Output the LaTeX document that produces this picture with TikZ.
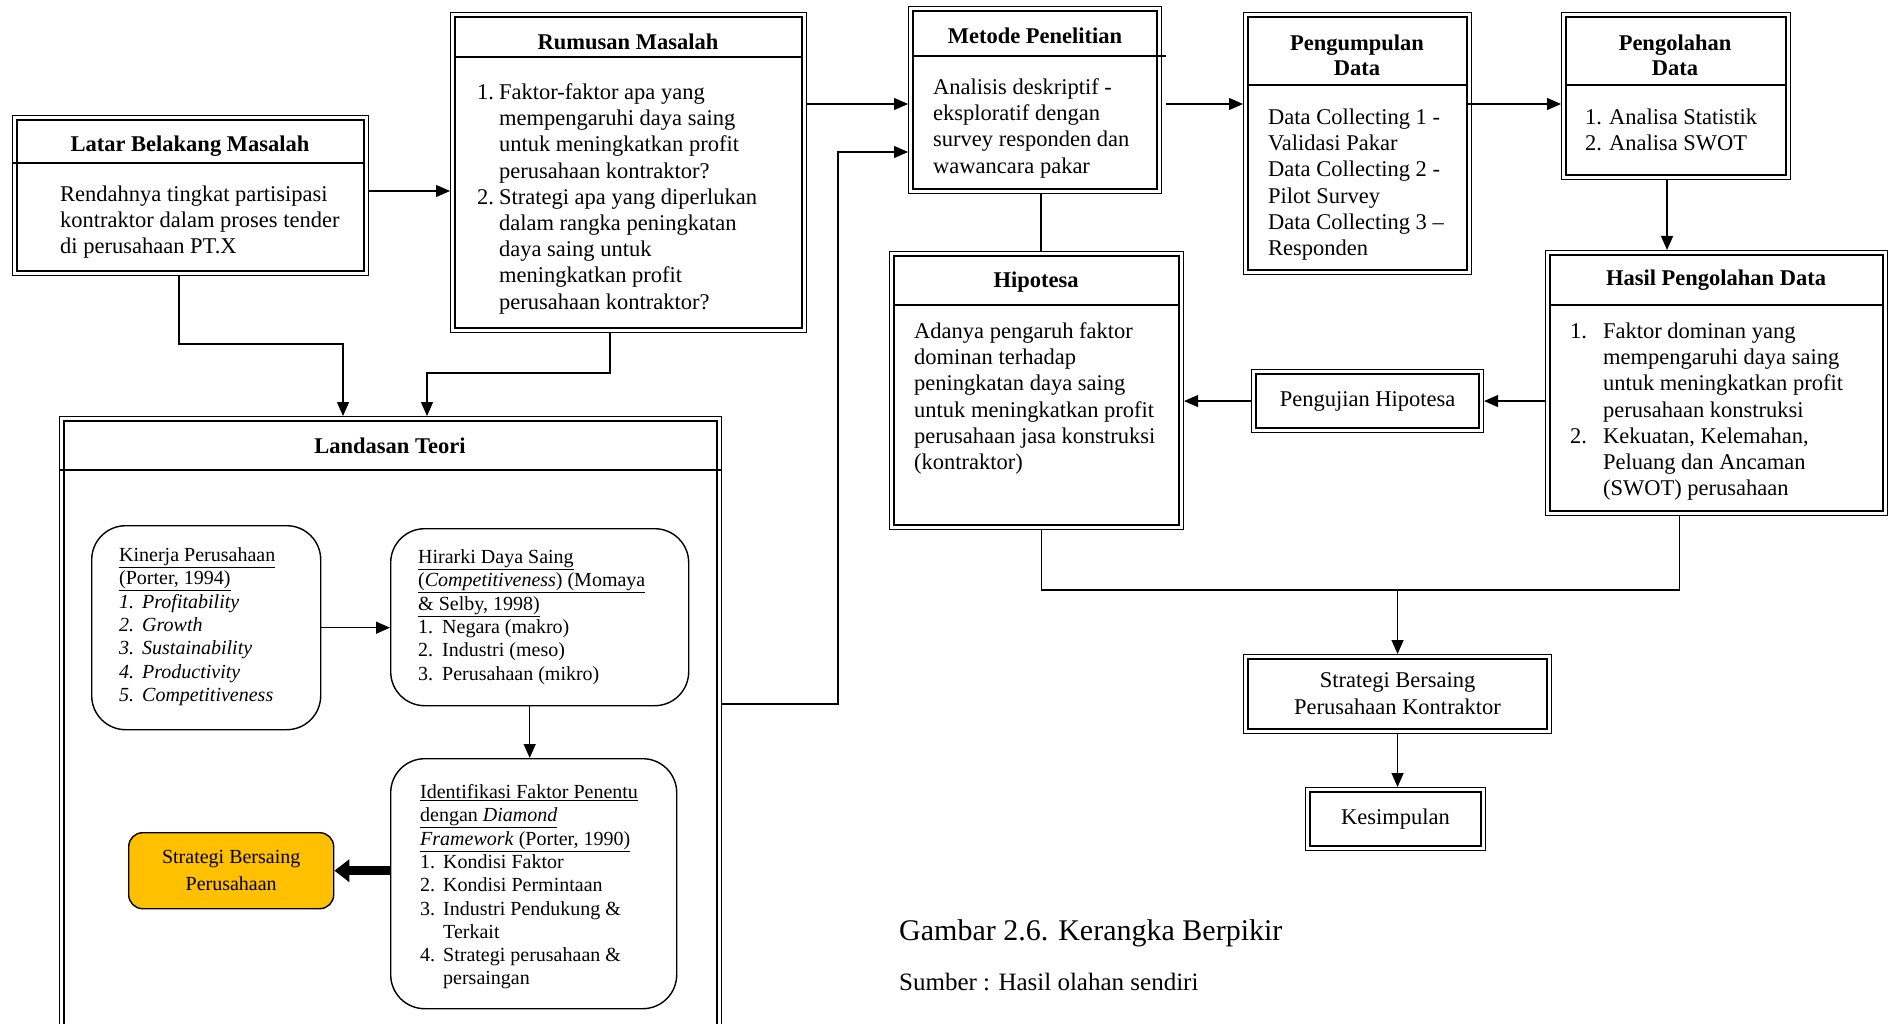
\documentclass[tikz,border=0pt]{standalone}
\usepackage{fontspec}
\setmainfont{Liberation Serif}
\usetikzlibrary{arrows.meta,calc}

\newcommand{\fbody}{\fontsize{22.5}{26.2}\selectfont}
\newcommand{\fsmall}{\fontsize{20}{23.3}\selectfont}
\newcommand{\undl}[1]{\underline{#1}}
\definecolor{gold}{HTML}{FFC000}

\tikzset{
  frame/.style={draw, line width=1.1pt, anchor=north west, inner sep=0pt},
  rbox/.style={draw, line width=1.4pt, anchor=north west, inner sep=0pt, rounded corners=34pt},
  txt/.style={anchor=north west, inner sep=0pt, font=\fbody},
  stxt/.style={anchor=north west, inner sep=0pt, font=\fsmall},
  ttl/.style={anchor=center, inner sep=0pt, align=center, font=\fbody\bfseries},
  ctxt/.style={anchor=center, inner sep=0pt, align=center, font=\fbody},
  ln/.style={line width=1.3pt},
  arr/.style={line width=1.3pt, -{Triangle[length=14pt,width=12pt]}},
  fatarr/.style={line width=9pt, -{Triangle[length=15pt,width=22pt]}},
  hdr/.style={line width=1.3pt}
}

\begin{document}
\begin{tikzpicture}[x=1pt,y=-1pt]
\useasboundingbox (0,0) rectangle (1893,1024);
\clip (0,0) rectangle (1893,1024);
\fill[white] (0,0) rectangle (1893,1024);

% ---------- framed boxes (outer thin line) ----------
\node[frame, minimum width=356pt, minimum height=160pt] (latar) at (12,115) {};
\node[frame, minimum width=356pt, minimum height=320pt] (rumusan) at (450,12) {};
\node[frame, minimum width=253pt, minimum height=187pt] (metode) at (908,6) {};
\node[frame, minimum width=228pt, minimum height=262pt] (pengumpulan) at (1243,12) {};
\node[frame, minimum width=229pt, minimum height=167pt] (pengolahan) at (1561,12) {};
\node[frame, minimum width=294pt, minimum height=278pt] (hipotesa) at (889,251) {};
\node[frame, minimum width=342pt, minimum height=265pt] (hasil) at (1545,250) {};
\node[frame, minimum width=232pt, minimum height=63pt] (pengujian) at (1251,369) {};
\node[frame, minimum width=662pt, minimum height=640pt] (landasan) at (59,416) {};
\node[frame, minimum width=308pt, minimum height=79pt] (strategi) at (1243,654) {};
\node[frame, minimum width=180pt, minimum height=63pt] (kesimpulan) at (1305,787) {};

% inner thick line of every double frame
\foreach \n in {latar,rumusan,metode,pengumpulan,pengolahan,hipotesa,hasil,pengujian,landasan,strategi,kesimpulan}
  \draw[line width=2.6pt] ([shift={(5pt,-5pt)}]\n.north west) rectangle ([shift={(-5pt,5pt)}]\n.south east);

% header rules
\draw[hdr] ($(latar.north west)+(0,48)$) -- ($(latar.north east)+(-5,48)$);
\draw[hdr] ($(rumusan.north west)+(5,45)$) -- ($(rumusan.north east)+(-5,45)$);
\draw[hdr] ($(metode.north west)+(5,50)$) -- ($(metode.north east)+(4,50)$);
\draw[hdr] ($(pengumpulan.north west)+(5,73)$) -- ($(pengumpulan.north east)+(-5,73)$);
\draw[hdr] ($(pengolahan.north west)+(5,73)$) -- ($(pengolahan.north east)+(-5,73)$);
\draw[hdr] ($(hipotesa.north west)+(5,54)$) -- ($(hipotesa.north east)+(-5,54)$);
\draw[hdr] ($(hasil.north west)+(5,55)$) -- ($(hasil.north east)+(-5,55)$);
\draw[hdr] ($(landasan.north west)+(0,54)$) -- ($(landasan.north east)+(0,54)$);

% ---------- titles ----------
\node[ttl] (tlatar) at (190,146) {Latar Belakang Masalah};
\node[ttl] (trumusan) at (628,42) {Rumusan Masalah};
\node[ttl] (tmetode) at (1035,36) {Metode Penelitian};
\node[ttl] (tkumpul) at (1357,55) {Pengumpulan\\[-1pt]Data};
\node[ttl] (tolah) at (1675,55) {Pengolahan\\[-1pt]Data};
\node[ttl] (thipo) at (1036,282) {Hipotesa};
\node[ttl] (thasil) at (1716,280) {Hasil Pengolahan Data};
\node[ttl] (tlandasan) at (390,446) {Landasan Teori};

% ---------- body texts ----------
\node[txt] (blatar) at (60,183) {\begin{tabular}{@{}l@{}}
Rendahnya tingkat partisipasi\\
kontraktor dalam proses tender\\
di perusahaan PT.X\end{tabular}};

\node[txt] (brumusan) at (477,81) {\begin{tabular}{@{}l@{\hspace{5pt}}l@{}}
1. & Faktor-faktor apa yang\\
   & mempengaruhi daya saing\\
   & untuk meningkatkan profit\\
   & perusahaan kontraktor?\\
2. & Strategi apa yang diperlukan\\
   & dalam rangka peningkatan\\
   & daya saing untuk\\
   & meningkatkan profit\\
   & perusahaan kontraktor?\end{tabular}};

\node[txt] (bmetode) at (933,76) {\begin{tabular}{@{}l@{}}
Analisis deskriptif -\\
eksploratif dengan\\
survey responden dan\\
wawancara pakar\end{tabular}};

\node[txt] (bkumpul) at (1268,106) {\begin{tabular}{@{}l@{}}
Data Collecting 1 -\\
Validasi Pakar\\
Data Collecting 2 -\\
Pilot Survey\\
Data Collecting 3 --\\
Responden\end{tabular}};

\node[txt] (bolah) at (1585,106) {\begin{tabular}{@{}l@{\hspace{7pt}}l@{}}
1. & Analisa Statistik\\
2. & Analisa SWOT\end{tabular}};

\node[txt] (bhipo) at (914,320) {\begin{tabular}{@{}l@{}}
Adanya pengaruh faktor\\
dominan terhadap\\
peningkatan daya saing\\
untuk meningkatkan profit\\
perusahaan jasa konstruksi\\
(kontraktor)\end{tabular}};

\node[txt] (bhasil) at (1570,320) {\begin{tabular}{@{}l@{\hspace{16pt}}l@{}}
1. & Faktor dominan yang\\
   & mempengaruhi daya saing\\
   & untuk meningkatkan profit\\
   & perusahaan konstruksi\\
2. & Kekuatan, Kelemahan,\\
   & Peluang dan Ancaman\\
   & (SWOT) perusahaan\end{tabular}};

\node[ctxt] (tuji) at (pengujian.center) {Pengujian Hipotesa};
\node[ctxt] (tstrat) at (strategi.center) {Strategi Bersaing\\[0.8pt]Perusahaan Kontraktor};
\node[ctxt] (tsimpul) at (kesimpulan.center) {Kesimpulan};

% ---------- inside Landasan Teori ----------
\node[rbox, minimum width=229pt, minimum height=204pt] (kinerja) at (91,525) {};
\node[rbox, minimum width=298pt, minimum height=177pt] (hirarki) at (390,528) {};
\node[rbox, minimum width=286pt, minimum height=250pt] (ident) at (390,758) {};
\node[draw, line width=1.4pt, fill=gold, rounded corners=14pt, anchor=north west, inner sep=0pt,
      minimum width=205pt, minimum height=76pt] (yellow) at (128,832) {};

\node[stxt] (bkinerja) at (119,545) {\begin{tabular}{@{}l@{\hspace{8pt}}l@{}}
\multicolumn{2}{@{}l@{}}{\undl{Kinerja Perusahaan}}\\
\multicolumn{2}{@{}l@{}}{\undl{(Porter, 1994)}}\\
\textit{1.} & \textit{Profitability}\\
\textit{2.} & \textit{Growth}\\
\textit{3.} & \textit{Sustainability}\\
\textit{4.} & \textit{Productivity}\\
\textit{5.} & \textit{Competitiveness}\end{tabular}};

\node[stxt] (bhirarki) at (418,547) {\begin{tabular}{@{}l@{\hspace{9pt}}l@{}}
\multicolumn{2}{@{}l@{}}{\undl{Hirarki Daya Saing}}\\
\multicolumn{2}{@{}l@{}}{\undl{(\textit{Competitiveness}) (Momaya}}\\
\multicolumn{2}{@{}l@{}}{\undl{\& Selby, 1998)}}\\
1. & Negara (makro)\\
2. & Industri (meso)\\
3. & Perusahaan (mikro)\end{tabular}};

\node[stxt] (bident) at (420,782) {\begin{tabular}{@{}l@{\hspace{8pt}}l@{}}
\multicolumn{2}{@{}l@{}}{\undl{Identifikasi Faktor Penentu}}\\
\multicolumn{2}{@{}l@{}}{\undl{dengan \textit{Diamond}}}\\
\multicolumn{2}{@{}l@{}}{\undl{\textit{Framework} (Porter, 1990)}}\\
1. & Kondisi Faktor\\
2. & Kondisi Permintaan\\
3. & Industri Pendukung \&\\
   & Terkait\\
4. & Strategi perusahaan \&\\
   & persaingan\end{tabular}};

\node[anchor=center, inner sep=0pt, align=center, font=\fontsize{20}{26.6}\selectfont] (tyellow) at (yellow.center)
  {Strategi Bersaing\\Perusahaan};

% ---------- caption ----------
\node[anchor=west, inner sep=0pt, font=\fontsize{30}{34}\selectfont] (caption) at (899,933) {Gambar 2.6. Kerangka Berpikir};
\node[anchor=west, inner sep=0pt, font=\fontsize{25}{29}\selectfont] (source) at (899,982) {Sumber : Hasil olahan sendiri};

% ---------- connectors ----------
\coordinate (p1) at ($(latar.north east)+(0,76)$);
\draw[arr] (p1) -- (p1 -| rumusan.west);

\coordinate (l1) at ($(latar.south west)+(167,0)$);
\coordinate (t1) at ($(landasan.north west)+(284,0)$);
\draw[arr] (l1) -- ++(0,68) -| (t1);

\coordinate (r2) at ($(rumusan.south west)+(160,0)$);
\coordinate (t2) at ($(landasan.north west)+(368,0)$);
\draw[arr] (r2) -- ++(0,40) -| (t2);

\coordinate (r1) at ($(rumusan.north east)+(0,92)$);
\draw[arr] (r1) -- (r1 -| metode.west);

\coordinate (q1) at ($(landasan.north east)+(0,288)$);
\coordinate (m1) at ($(metode.north west)+(0,146)$);
\draw[arr] (q1) -- ++(116,0) |- (m1);

\coordinate (m2) at ($(metode.north east)+(4,98)$);
\draw[arr] (m2) -- (m2 -| pengumpulan.west);

\coordinate (g1) at ($(pengumpulan.north east)+(-6,92)$);
\draw[arr] (g1) -- (g1 -| pengolahan.west);

\coordinate (o1) at ($(pengolahan.south)+(-9,0)$);
\draw[arr] (o1) -- (o1 |- hasil.north);

\coordinate (m3) at ($(metode.south)+(6,0)$);
\draw[ln] (m3) -- (m3 |- hipotesa.north);

\draw[arr] (pengujian.east -| hasil.west) -- (pengujian.east);
\draw[arr] (pengujian.west) -- (pengujian.west -| hipotesa.east);

\coordinate (hp) at ($(hipotesa.south)+(5,0)$);
\coordinate (hs) at ($(hasil.south)+(-37,0)$);
\coordinate (jn) at ($(hs)+(0,74)$);
\draw[ln] (hp) |- (jn) -- (hs);
\draw[arr] (jn -| strategi.north) -- (strategi.north);

\draw[arr] (strategi.south) -- (strategi.south |- kesimpulan.north);

\draw[arr] (kinerja.east) -- (kinerja.east -| hirarki.west);
\coordinate (hi) at ($(hirarki.south)+(-10,0)$);
\draw[arr] (hi) -- (hi |- ident.north);
\draw[fatarr] (yellow.east -| ident.west) -- (yellow.east);

\end{tikzpicture}
\end{document}
